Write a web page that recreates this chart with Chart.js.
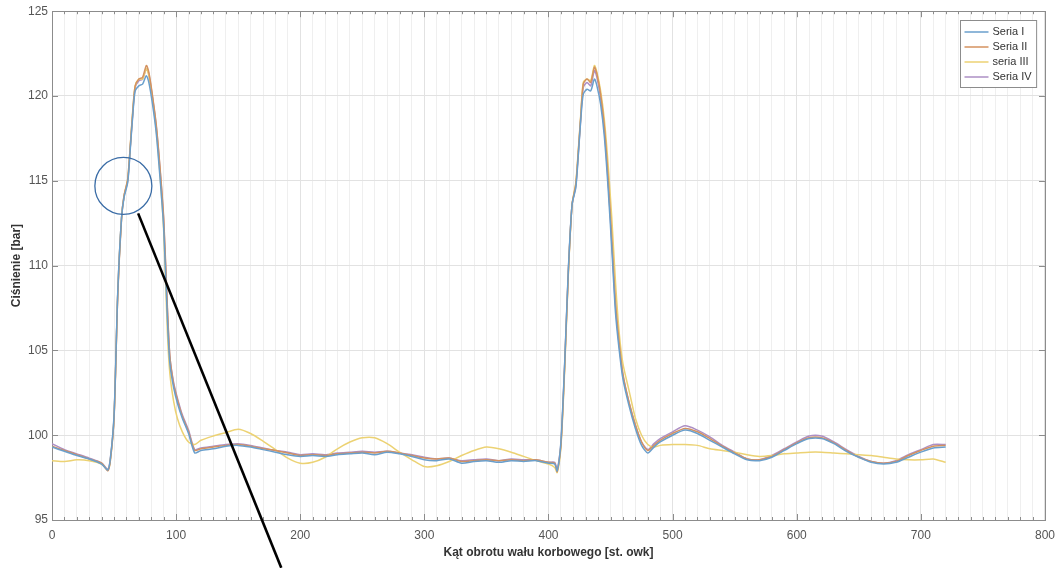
<!DOCTYPE html>
<html>
<head>
<meta charset="utf-8">
<script src="https://cdn.jsdelivr.net/npm/chart.js@4.4.1/dist/chart.umd.min.js"></script>
<style>
  html, body { margin: 0; padding: 0; background: #fff; }
  #wrap { width: 1063px; height: 568px; }
</style>
</head>
<body>
<div id="wrap"><canvas id="chart"></canvas></div>
<script>
// Kąt obrotu wału [st. owk]
const angles = [
  0, 10, 20, 30, 40, 45,
  47, 50, 53, 56, 58, 61, 63, 65, 67, 70, 73, 76, 78, 81, 84, 87, 90, 93, 95, 98, 101, 105, 110, 115,
  120, 130, 140, 150, 160, 170, 180, 190, 200, 210, 220, 230, 240, 250, 260, 270, 280, 290, 300,
  310, 320, 330, 340, 350, 360, 370, 380, 390, 400,
  405, 407, 410, 413, 416, 419, 422, 424, 426, 428, 431, 434, 437, 439, 442, 445, 448, 451, 454,
  457, 460, 465, 470, 475, 480, 485, 490,
  500, 510, 520, 530, 540, 550, 560, 570, 580, 590, 600, 610, 620, 630, 640, 650, 660, 670, 680,
  690, 700, 710, 720
];

// Ciśnienie [bar]
const seria1 = [
  99.3, 99.05, 98.8, 98.6, 98.3, 97.95,
  98.6, 101.2, 108.5, 112.8, 114.0, 114.9, 116.8, 118.8, 120.3, 120.6, 120.7, 121.2, 120.8, 119.5, 117.8, 115.2, 112.2, 106.8, 104.2, 102.8, 101.9, 101.0, 100.1, 98.95,
  99.1, 99.2, 99.35, 99.4, 99.3, 99.15, 99.0, 98.85, 98.75, 98.8, 98.75, 98.85, 98.9, 98.95, 98.85, 99.0, 98.9, 98.75, 98.55,
  98.5, 98.6, 98.35, 98.45, 98.5, 98.4, 98.5, 98.45, 98.5, 98.35,
  98.3, 97.9, 99.6, 104.2, 109.8, 113.6, 114.6, 116.5, 118.6, 120.1, 120.4, 120.3, 121.0, 120.6, 119.5, 117.6, 114.6, 111.0, 107.2,
  105.0, 103.3, 101.7, 100.4, 99.4, 98.95, 99.3, 99.6,
  100.0, 100.3, 100.1, 99.7, 99.3, 98.9, 98.55, 98.5, 98.7, 99.1, 99.5, 99.8, 99.8, 99.5, 99.05, 98.7, 98.4, 98.3, 98.4,
  98.7, 99.0, 99.25, 99.3
];
const seria2 = [
  99.35, 99.1, 98.85, 98.6, 98.35, 97.9,
  98.5, 101.0, 108.3, 112.7, 114.1, 115.1, 117.0, 119.0, 120.6, 121.0, 121.1, 121.8, 121.4, 120.0, 118.3, 115.8, 112.8, 107.5, 104.6, 103.0, 102.1, 101.1, 100.2, 99.1,
  99.2, 99.3, 99.4, 99.45, 99.35, 99.2, 99.1, 98.95, 98.8, 98.85, 98.8, 98.9, 98.95, 99.0, 98.95, 99.05, 98.95, 98.8, 98.65,
  98.6, 98.65, 98.45, 98.5, 98.55, 98.5, 98.55, 98.5, 98.55, 98.4,
  98.35, 97.85, 99.4, 104.0, 109.6, 113.6, 114.8, 116.7, 118.8, 120.7, 121.0, 120.8, 121.7, 121.3, 120.1, 118.2, 115.2, 111.6, 107.8,
  105.4, 103.6, 101.9, 100.6, 99.6, 99.1, 99.4, 99.7,
  100.1, 100.4, 100.2, 99.8, 99.35, 98.95, 98.6, 98.55, 98.75, 99.15, 99.55, 99.85, 99.85, 99.55, 99.1, 98.7, 98.45, 98.35, 98.45,
  98.8, 99.1, 99.35, 99.4
];
const seria3 = [
  98.5, 98.45, 98.55, 98.5, 98.3, 97.95,
  98.5, 101.1, 108.4, 112.8, 114.1, 115.1, 117.0, 119.1, 120.6, 121.0, 121.0, 121.6, 121.2, 119.8, 118.0, 115.4, 112.0, 106.0, 103.6, 102.0, 101.0, 100.2, 99.6, 99.45,
  99.7, 99.95, 100.15, 100.35, 100.1, 99.65, 99.15, 98.65, 98.35, 98.4, 98.7, 99.2, 99.6, 99.85, 99.85, 99.5, 99.0, 98.55, 98.15,
  98.2, 98.45, 98.8, 99.1, 99.3, 99.2, 99.0, 98.75, 98.5, 98.3,
  98.1, 97.8, 99.3, 103.8, 109.5, 113.6, 114.9, 116.8, 118.9, 120.8, 121.0, 120.9, 121.8, 121.4, 120.3, 118.6, 116.0, 112.8, 109.0,
  106.0, 104.2, 102.6, 101.0, 100.0, 99.45, 99.3, 99.4,
  99.45, 99.45, 99.4, 99.2, 99.1, 99.0, 98.85, 98.75, 98.8, 98.9, 98.95, 99.0, 99.0, 98.95, 98.9, 98.85, 98.8, 98.7, 98.6,
  98.55, 98.55, 98.6, 98.4
];
const seria4 = [
  99.5, 99.15, 98.9, 98.65, 98.35, 98.0,
  98.6, 101.1, 108.4, 112.8, 114.1, 115.0, 116.9, 118.9, 120.5, 120.9, 121.0, 121.6, 121.3, 119.9, 118.2, 115.7, 112.6, 107.3, 104.6, 103.1, 102.2, 101.2, 100.3, 99.15,
  99.25, 99.35, 99.45, 99.5, 99.4, 99.25, 99.1, 99.0, 98.85, 98.9, 98.85, 98.95, 99.0, 99.05, 99.0, 99.05, 98.95, 98.85, 98.7,
  98.6, 98.65, 98.5, 98.55, 98.6, 98.5, 98.6, 98.55, 98.55, 98.4,
  98.4, 97.95, 99.5, 104.1, 109.7, 113.6, 114.7, 116.6, 118.7, 120.5, 120.8, 120.6, 121.5, 121.1, 119.9, 118.0, 115.0, 111.4, 107.6,
  105.3, 103.5, 101.9, 100.6, 99.6, 99.15, 99.5, 99.8,
  100.2, 100.55, 100.3, 99.9, 99.4, 99.0, 98.6, 98.55, 98.8, 99.2, 99.6, 99.95, 99.95, 99.6, 99.15, 98.75, 98.45, 98.35, 98.5,
  98.85, 99.15, 99.45, 99.45
];

const seriesNames = ['Seria I', 'Seria II', 'seria III', 'Seria IV'];
const seriesColors = ['#6a9fcc', '#d4925f', '#ecd273', '#ad8fc4'];
const seriesValues = [seria1, seria2, seria3, seria4];

const FONT = '"Liberation Sans", Arial, sans-serif';

function toPoints(values) {
  return angles.map((a, i) => ({ x: a, y: values[i] }));
}

// ramka osi z kreskami podziałki do wewnątrz (styl MATLAB)
const framePlugin = {
  id: 'frame',
  beforeDatasetsDraw(chart) {
    const { ctx, chartArea: a, scales } = chart;
    ctx.save();
    ctx.strokeStyle = '#8c8c8c';
    ctx.lineWidth = 1;
    ctx.beginPath();
    scales.x.ticks.forEach(t => {
      const px = Math.round(scales.x.getPixelForValue(t.value)) + 0.5;
      const len = t.value % 100 === 0 ? 6 : 3;
      ctx.moveTo(px, a.bottom); ctx.lineTo(px, a.bottom - len);
      ctx.moveTo(px, a.top); ctx.lineTo(px, a.top + len);
    });
    scales.y.ticks.forEach(t => {
      const py = Math.round(scales.y.getPixelForValue(t.value)) + 0.5;
      ctx.moveTo(a.left, py); ctx.lineTo(a.left + 6, py);
      ctx.moveTo(a.right, py); ctx.lineTo(a.right - 6, py);
    });
    ctx.stroke();
    ctx.strokeRect(Math.round(a.left) + 0.5, Math.round(a.top) + 0.5,
      Math.round(a.right - a.left), Math.round(a.bottom - a.top));
    ctx.restore();
  },
  afterDraw(chart) {
    const { ctx, chartArea: a, scales } = chart;
    ctx.save();
    // legenda
    ctx.font = '11px ' + FONT;
    const ds = chart.data.datasets;
    const lineLen = 24, rowH = 15;
    const textW = Math.max(...ds.map(d => ctx.measureText(d.label).width));
    const w = 4 + lineLen + 4 + textW + 5;
    const h = ds.length * rowH + 7;
    const bx = Math.round(a.right - 9 - w) + 0.5;
    const by = Math.round(a.top + 9) + 0.5;
    ctx.fillStyle = '#fff';
    ctx.fillRect(bx, by, w, h);
    ctx.strokeStyle = '#8c8c8c';
    ctx.lineWidth = 1;
    ctx.strokeRect(bx, by, w, h);
    ds.forEach((d, i) => {
      const cy = by + 4 + rowH / 2 + i * rowH;
      ctx.strokeStyle = d.borderColor;
      ctx.lineWidth = 1.5;
      ctx.beginPath();
      ctx.moveTo(bx + 4, cy); ctx.lineTo(bx + 4 + lineLen, cy);
      ctx.stroke();
      ctx.fillStyle = '#333';
      ctx.textBaseline = 'middle';
      ctx.fillText(d.label, bx + 4 + lineLen + 4, cy);
    });
    // adnotacja: okrąg i linia odnośnika
    const cx = scales.x.getPixelForValue(57.5);
    const cy = scales.y.getPixelForValue(114.7);
    ctx.strokeStyle = '#3a6ca6';
    ctx.lineWidth = 1.3;
    ctx.beginPath();
    ctx.arc(cx, cy, 28.5, 0, Math.PI * 2);
    ctx.stroke();
    ctx.strokeStyle = '#000';
    ctx.lineWidth = 2.6;
    ctx.beginPath();
    ctx.moveTo(scales.x.getPixelForValue(69.4), scales.y.getPixelForValue(113.08));
    ctx.lineTo(scales.x.getPixelForValue(184.7), scales.y.getPixelForValue(92.18));
    ctx.stroke();
    ctx.restore();
  }
};

const ctx = document.getElementById('chart').getContext('2d');
new Chart(ctx, {
  type: 'line',
  data: {
    datasets: seriesValues.map((vals, i) => ({
      label: seriesNames[i],
      data: toPoints(vals),
      borderColor: seriesColors[i],
      backgroundColor: seriesColors[i],
      borderWidth: 1.5,
      pointRadius: 0,
      tension: 0.25,
      fill: false
    }))
  },
  options: {
    responsive: true,
    maintainAspectRatio: false,
    animation: false,
    devicePixelRatio: 1,
    layout: { padding: { top: 10, right: 17, left: 0, bottom: 0 } },
    plugins: {
      legend: { display: false },
      tooltip: { enabled: false }
    },
    scales: {
      x: {
        type: 'linear',
        min: 0,
        max: 800,
        afterFit: s => { s.height = 48; },
        ticks: {
          stepSize: 10,
          autoSkip: false,
          maxRotation: 0,
          padding: 8,
          color: '#555',
          font: { family: FONT, size: 12 },
          callback: v => (v % 100 === 0 ? v : '')
        },
        grid: {
          drawTicks: false,
          color: c => (c.tick && c.tick.value % 100 === 0 ? '#e2e2e2' : '#efefef')
        },
        border: { color: '#8c8c8c' },
        title: {
          display: true,
          text: 'Kąt obrotu wału korbowego [st. owk]',
          color: '#333',
          font: { family: FONT, size: 12, weight: 'bold' },
          padding: { top: 8, bottom: 8 }
        }
      },
      y: {
        min: 95,
        max: 125,
        afterFit: s => { s.width = 52; },
        ticks: {
          stepSize: 5,
          padding: 4,
          color: '#555',
          font: { family: FONT, size: 12 }
        },
        grid: { drawTicks: false, color: '#e2e2e2' },
        border: { color: '#8c8c8c' },
        title: {
          display: true,
          text: 'Ciśnienie [bar]',
          color: '#333',
          font: { family: FONT, size: 12, weight: 'bold' },
          padding: { top: 9, bottom: 9 }
        }
      }
    }
  },
  plugins: [framePlugin]
});
</script>
</body>
</html>
